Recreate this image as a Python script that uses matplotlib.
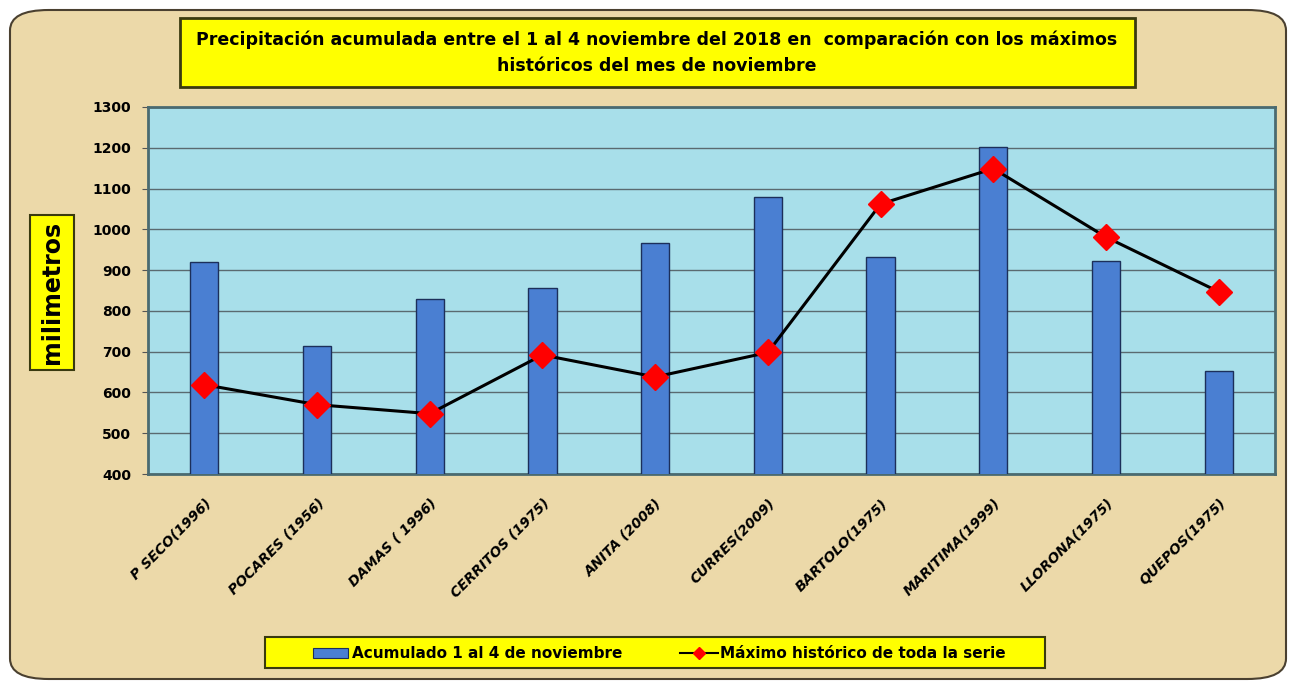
import matplotlib
matplotlib.use("Agg")
import matplotlib.pyplot as plt
from matplotlib.patches import FancyBboxPatch, Rectangle
from matplotlib.lines import Line2D
from matplotlib.transforms import ScaledTranslation
import numpy as np

stations = ["P SECO(1996)", "POCARES (1956)", "DAMAS ( 1996)", "CERRITOS (1975)", "ANITA (2008)",
            "CURRES(2009)", "BARTOLO(1975)", "MARITIMA(1999)", "LLORONA(1975)", "QUEPOS(1975)"]
acumulado = [920, 715, 830, 857, 967, 1080, 932, 1202, 923, 653]
maximo = [619, 570, 548, 692, 638, 698, 1062, 1149, 981, 847]
yticks = [400, 500, 600, 700, 800, 900, 1000, 1100, 1200, 1300]

title = ("Precipitación acumulada entre el 1 al 4 noviembre del 2018 en  comparación con los máximos\n"
         "históricos del mes de noviembre")
ylabel = "milimetros"
leg_bar = "Acumulado 1 al 4 de noviembre"
leg_line = "Máximo histórico de toda la serie"

W, H = 1290, 681
fig = plt.figure(figsize=(W / 100, H / 100), dpi=100)
fig.patch.set_facecolor("white")

# outer frame
frame = FancyBboxPatch((10 / W, 2 / H), (W - 14) / W, (H - 12) / H,
                       boxstyle="round,pad=0,rounding_size=0.03",
                       transform=fig.transFigure, facecolor="#ECD9A9",
                       edgecolor="#4a4030", linewidth=1.5, zorder=-5)
fig.patches.append(frame)

ax = fig.add_axes([148 / W, 1 - 474 / H, (1275 - 148) / W, (474 - 107) / H])
ax.set_zorder(2)
ax.set_facecolor("#A8DFEA")
x = np.arange(len(stations))
ax.bar(x, acumulado, width=0.25, color="#4A7FD2", edgecolor="#1c2f5a", linewidth=1.0, zorder=3)
ax.plot(x, maximo, color="black", linewidth=2.2, marker="D", markersize=13,
        markerfacecolor="#FF0000", markeredgecolor="#FF0000", zorder=4)
ax.set_ylim(400, 1300)
ax.set_xlim(-0.5, len(stations) - 0.5)
ax.set_yticks(yticks)
ax.set_yticklabels([str(v) for v in yticks], fontsize=10, fontweight="bold")
ax.grid(axis="y", color="#5a6a70", linewidth=1.0, zorder=1)
ax.set_axisbelow(True)
ax.set_xticks(x)
ax.set_xticklabels(stations, rotation=45, ha="right", rotation_mode="anchor",
                   fontsize=10, fontweight="bold", fontstyle="italic")
offset = ScaledTranslation(-12 / 100, 0, fig.dpi_scale_trans)
for lbl in ax.get_xticklabels():
    lbl.set_transform(lbl.get_transform() + offset)
ax.tick_params(axis="x", length=0, pad=16)
ax.tick_params(axis="y", length=4, color="#555555", pad=8)
for s in ax.spines.values():
    s.set_color("#4a6a70")
    s.set_linewidth(2)

# title box
tb = FancyBboxPatch((180 / W, 1 - 87 / H), (1135 - 180) / W, (87 - 18) / H,
                    boxstyle="square,pad=0", transform=fig.transFigure,
                    facecolor="#FFFF00", edgecolor="#3a3a10", linewidth=2, zorder=2)
fig.patches.append(tb)
fig.text(657 / W, 1 - 53 / H, title, ha="center", va="center", fontsize=12.5,
         fontweight="bold", linespacing=1.6, zorder=3)

# y label box
yb = FancyBboxPatch((30 / W, 1 - 370 / H), (74 - 30) / W, (370 - 215) / H,
                    boxstyle="square,pad=0", transform=fig.transFigure,
                    facecolor="#FFFF00", edgecolor="#3a3a10", linewidth=1.5, zorder=2)
fig.patches.append(yb)
fig.text(52 / W, 1 - 292 / H, ylabel, rotation=90, ha="center", va="center",
         fontsize=17, fontweight="bold", zorder=3)

# legend box
lb = FancyBboxPatch((265 / W, 1 - 668 / H), (1045 - 265) / W, (668 - 637) / H,
                    boxstyle="square,pad=0", transform=fig.transFigure,
                    facecolor="#FFFF00", edgecolor="#3a3a10", linewidth=1.5, zorder=2)
fig.patches.append(lb)
fig.patches.append(Rectangle((313 / W, 1 - 658 / H), 35 / W, 10 / H, transform=fig.transFigure,
                             facecolor="#4A7FD2", edgecolor="#1c2f5a", linewidth=0.8, zorder=3))
fig.text(352 / W, 1 - 653 / H, leg_bar, ha="left", va="center", fontsize=11,
         fontweight="bold", zorder=3)
fig.lines.append(Line2D([680 / W, 718 / W], [1 - 653 / H, 1 - 653 / H], transform=fig.transFigure,
                        color="black", linewidth=1.5, zorder=3))
fig.lines.append(Line2D([699 / W], [1 - 653 / H], transform=fig.transFigure, marker="D",
                        markersize=6, markerfacecolor="#FF0000", markeredgecolor="#FF0000",
                        linestyle="none", zorder=4))
fig.text(720 / W, 1 - 653 / H, leg_line, ha="left", va="center", fontsize=11,
         fontweight="bold", zorder=3)

fig.savefig("out.png", dpi=100, facecolor=fig.get_facecolor())
